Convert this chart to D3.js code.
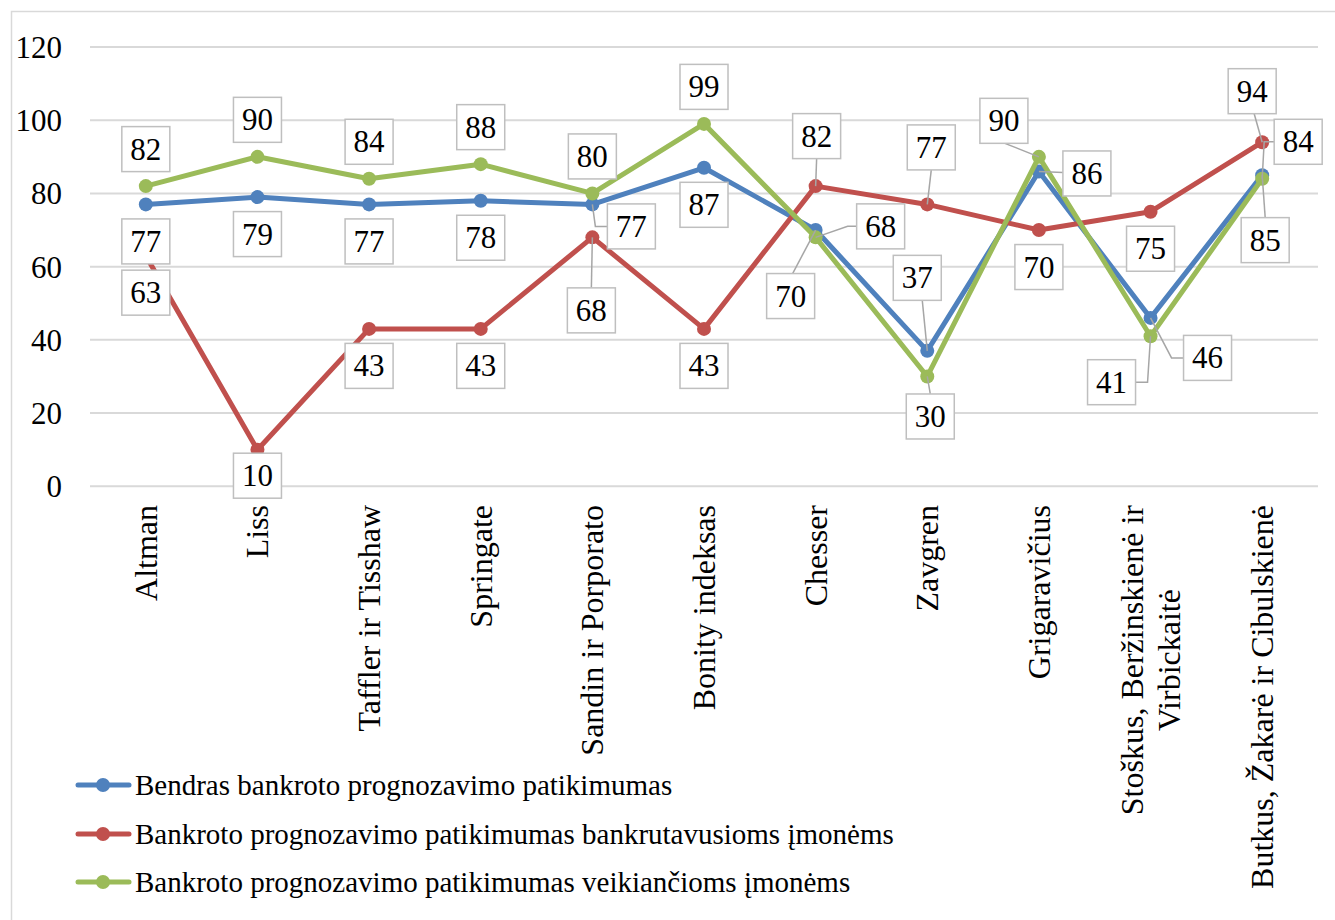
<!DOCTYPE html>
<html>
<head>
<meta charset="utf-8">
<script src="https://cdn.jsdelivr.net/npm/d3@7"></script>
<style>
  html, body { margin: 0; padding: 0; background: #fff; }
  svg { display: block; }
  svg text { font-family: "Liberation Serif", "Times New Roman", serif; }
</style>
</head>
<body>
<svg id="chart" width="1335" height="920"></svg>
<script>
// Bankruptcy prediction model reliability (%)
const categories = [
  "Altman", "Liss", "Taffler ir Tisshaw", "Springate", "Sandin ir Porporato",
  "Bonity indeksas", "Chesser", "Zavgren", "Grigaravičius",
  "Stoškus, Beržinskienė ir|Virbickaitė", "Butkus, Žakarė ir Cibulskienė"
];
const seriesNames = [
  "Bendras bankroto prognozavimo patikimumas",
  "Bankroto prognozavimo patikimumas bankrutavusioms įmonėms",
  "Bankroto prognozavimo patikimumas veikiančioms įmonėms"
];
const overall  = [77, 79, 77, 78, 77, 87, 70, 37, 86, 46, 85];
const bankrupt = [63, 10, 43, 43, 68, 43, 82, 77, 70, 75, 94];
const active   = [82, 90, 84, 88, 80, 99, 68, 30, 90, 41, 84];
const yTicks = [0, 20, 40, 60, 80, 100, 120];

const colors = ["#4f81bd", "#c0504d", "#9bbb59"];
const FONT = "Liberation Serif, Times New Roman, serif";

// Data-label placement: box centre offset from the marker, plus optional leader knees
const labelLayout = [
  [[0,37],[0,37],[0,37],[0,37],[39,22,[[3,22],[15,22]]],[0,37],
   [-25,66,[[-23,43.5]]],[-10,-73,[[-5,-50.5]]],[48,2,[[24,1]]],
   [57,40,[[21,40],[33,40]]],[3,65,[[3,42.5]]]],
  [[0,37],[0,26],[0,37],[0,37],[-1,73,[[-1,50.5]]],[0,37],
   [1,-50,[[1,-27.5]]],[4,-57,[[4,-34.5]]],[0,37],[0,37],[-10,-51,[[-8,-28.5]]]],
  [[0,-37],[0,-37],[0,-37],[0,-37],[0,-37],[0,-37],
   [65,-11,[[32,-11],[41,-11]]],[3,40,[[3,17.5]]],[-35,-36,[[-34,-13.5]]],
   [-39,46,[[-3,46],[-15,46]]],[36,-37,[[2,-37],[12,-37]]]]
];

const svg = d3.select("#chart").attr("font-family", FONT);
const plot = { left: 90, right: 1318, top: 47, bottom: 486.3 };

// outer chart frame
svg.append("rect")
  .attr("x", 11.5).attr("y", 11.5)
  .attr("width", 1400).attr("height", 1000)
  .attr("fill", "#fff").attr("stroke", "#d9d9d9").attr("stroke-width", 1.5);

const x = d3.scaleBand().domain(categories).range([plot.left, plot.right]);
const y = d3.scaleLinear().domain([0, 120]).range([plot.bottom, plot.top]);
const cx = c => x(c) + x.bandwidth() / 2;

// horizontal gridlines
svg.append("g").selectAll("line").data(yTicks).join("line")
  .attr("x1", plot.left).attr("x2", plot.right)
  .attr("y1", d => y(d)).attr("y2", d => y(d))
  .attr("stroke", "#d9d9d9").attr("stroke-width", 2);

// y axis labels
const yAxis = d3.axisLeft(y).tickValues(yTicks).tickSize(0).tickPadding(0);
svg.append("g")
  .attr("transform", `translate(62,0)`)
  .call(yAxis)
  .attr("font-family", FONT)
  .call(g => g.select(".domain").remove())
  .call(g => g.selectAll("text")
    .attr("font-family", FONT)
    .attr("font-size", 31).attr("fill", "#000").attr("dy", "0.34em"));

// category labels, rotated
const catG = svg.append("g");
categories.forEach(c => {
  const lines = c.split("|");
  const g = catG.append("g");
  const texts = lines.map(ln => g.append("text")
    .text(ln)
    .attr("font-family", FONT)
    .attr("font-size", 32)
    .attr("text-anchor", "middle"));
  const maxLen = d3.max(texts, t => t.node().getComputedTextLength());
  const lineH = 37;
  const n = lines.length;
  texts.forEach((t, i) => {
    const off = (i - (n - 1) / 2) * lineH;
    t.attr("transform", `translate(${cx(c) + off},${505 + maxLen / 2}) rotate(-90)`)
     .attr("dy", "0.34em");
  });
});

const allSeries = [overall, bankrupt, active];
const line = d3.line().x((d, i) => cx(categories[i])).y(d => y(d));

// series lines and markers
allSeries.forEach((vals, s) => {
  svg.append("path")
    .datum(vals)
    .attr("d", line)
    .attr("fill", "none")
    .attr("stroke", colors[s])
    .attr("stroke-width", 5)
    .attr("stroke-linejoin", "round")
    .attr("stroke-linecap", "round");
  svg.append("g").selectAll("circle").data(vals).join("circle")
    .attr("cx", (d, i) => cx(categories[i]))
    .attr("cy", d => y(d))
    .attr("r", 7)
    .attr("fill", colors[s]);
});

// leader lines
const leaderG = svg.append("g");
allSeries.forEach((vals, s) => {
  vals.forEach((v, i) => {
    const lay = labelLayout[s][i];
    if (!lay[2]) return;
    const px = cx(categories[i]), py = y(v);
    const pts = [[px, py]].concat(lay[2].map(k => [px + k[0], py + k[1]]));
    leaderG.append("path")
      .attr("d", d3.line()(pts))
      .attr("fill", "none")
      .attr("stroke", "#a6a6a6")
      .attr("stroke-width", 1.5);
  });
});

// data label boxes
const boxW = 48, boxH = 45;
const labelG = svg.append("g");
allSeries.forEach((vals, s) => {
  vals.forEach((v, i) => {
    const lay = labelLayout[s][i];
    const bx = cx(categories[i]) + lay[0];
    const by = y(v) + lay[1];
    labelG.append("rect")
      .attr("x", bx - boxW / 2).attr("y", by - boxH / 2)
      .attr("width", boxW).attr("height", boxH)
      .attr("fill", "#fff").attr("stroke", "#bfbfbf").attr("stroke-width", 1.5);
    labelG.append("text")
      .attr("x", bx).attr("y", by)
      .attr("dy", "0.34em")
      .attr("text-anchor", "middle")
      .attr("font-family", FONT)
      .attr("font-size", 31)
      .text(v);
  });
});

// legend
const legendRows = [785, 834, 882];
seriesNames.forEach((name, s) => {
  const ly = legendRows[s];
  svg.append("line")
    .attr("x1", 78).attr("x2", 129).attr("y1", ly).attr("y2", ly)
    .attr("stroke", colors[s]).attr("stroke-width", 5).attr("stroke-linecap", "round");
  svg.append("circle").attr("cx", 103).attr("cy", ly).attr("r", 7).attr("fill", colors[s]);
  svg.append("text")
    .attr("x", 135).attr("y", ly).attr("dy", "0.34em")
    .attr("font-family", FONT)
    .attr("font-size", 29)
    .text(name);
});
</script>
</body>
</html>
